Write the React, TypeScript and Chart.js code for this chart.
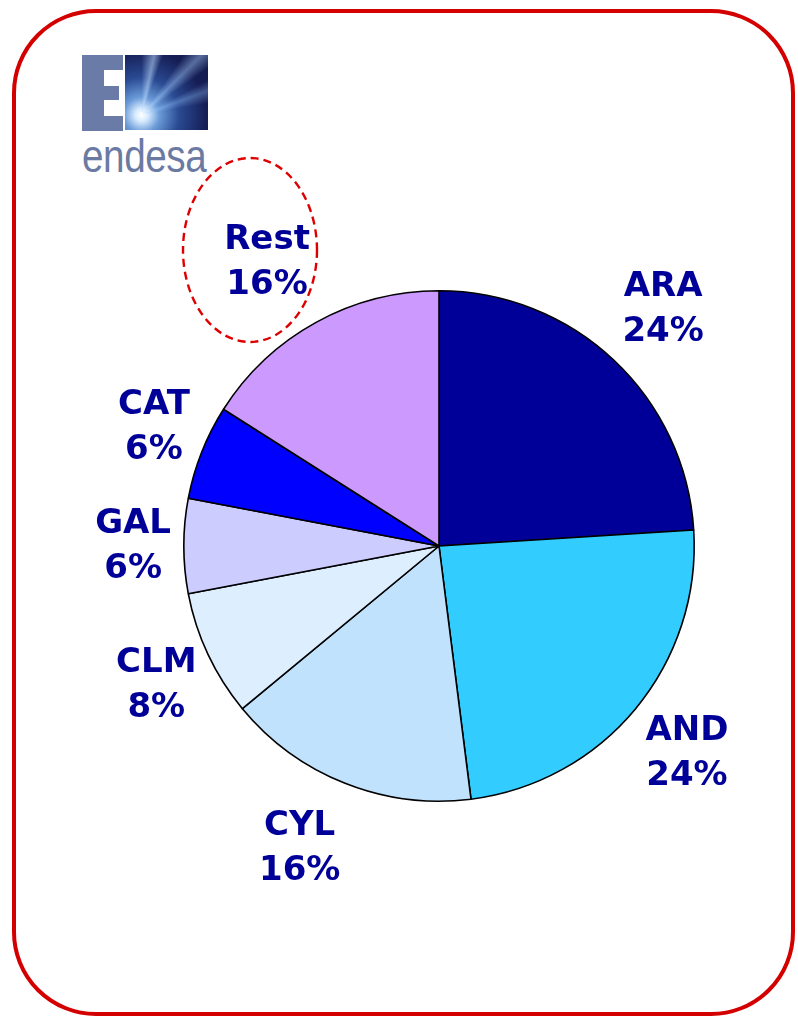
import React, { useEffect, useRef } from "react";
import { Chart, registerables } from "chart.js";

Chart.register(...registerables);

const categories = ["ARA", "AND", "CYL", "CLM", "GAL", "CAT", "Rest"];
const shares = [24, 24, 16, 8, 6, 6, 16];
const sliceColors = ["#000099", "#33CCFF", "#C0E2FC", "#DDEEFF", "#CCCCFF", "#0000FF", "#CC99FF"];

const LABEL_COLOR = "#000099";
const LABEL_FONT = "bold 34px 'DejaVu Sans', Verdana, sans-serif";
const LINE_GAP = 45;

const outsideLabels = {
  id: "outsideLabels",
  afterDatasetsDraw(chart: any) {
    const ctx = chart.ctx;
    const meta = chart.getDatasetMeta(0);
    ctx.save();
    ctx.font = LABEL_FONT;
    ctx.fillStyle = LABEL_COLOR;
    ctx.textAlign = "center";
    ctx.textBaseline = "middle";
    meta.data.forEach((arc: any, i: number) => {
      const p = arc.getProps(["x", "y", "startAngle", "endAngle", "outerRadius"], true);
      const mid = (p.startAngle + p.endAngle) / 2;
      const l1 = categories[i];
      const l2 = shares[i] + "%";
      const hw = Math.max(ctx.measureText(l1).width, ctx.measureText(l2).width) / 2;
      const c = Math.cos(mid);
      const s = Math.sin(mid);
      const cx = p.x + c * p.outerRadius * 1.05 + Math.sign(c) * hw;
      const cy = p.y + s * (p.outerRadius * 1.05 + 57);
      ctx.fillText(l1, cx, cy - LINE_GAP / 2 + 1);
      ctx.fillText(l2, cx, cy + LINE_GAP / 2 + 1);
    });
    ctx.restore();
  },
};

function PieChart() {
  const ref = useRef<HTMLCanvasElement | null>(null);
  useEffect(() => {
    if (!ref.current) return;
    const chart = new Chart(ref.current, {
      type: "pie",
      data: {
        labels: categories,
        datasets: [
          {
            data: shares,
            backgroundColor: sliceColors,
            borderColor: "#000000",
            borderWidth: 1.6,
          },
        ],
      },
      options: {
        animation: false,
        responsive: false,
        maintainAspectRatio: false,
        layout: { padding: { left: 183, right: 103, top: 290, bottom: 215 } },
        plugins: { legend: { display: false }, tooltip: { enabled: false }, title: { display: false } },
      },
      plugins: [outsideLabels],
    });
    return () => chart.destroy();
  }, []);
  return (
    <canvas
      ref={ref}
      width={798}
      height={1017}
      style={{ position: "absolute", left: 0, top: 0, width: 798, height: 1017 }}
    />
  );
}

export default function App() {
  useEffect(() => {
    document.body.style.margin = "0";
  }, []);
  return (
    <div style={{ position: "relative", width: 798, height: 1017, background: "#ffffff", overflow: "hidden" }}>
      <div
        style={{
          position: "absolute",
          left: 12,
          top: 9,
          width: 783 - 8,
          height: 1007 - 8,
          border: "4px solid #D40000",
          borderRadius: 84,
        }}
      />
      {/* logo */}
      <div style={{ position: "absolute", left: 82, top: 55, width: 22, height: 76, background: "#6A7BA8" }} />
      <div style={{ position: "absolute", left: 82, top: 55, width: 41, height: 15, background: "#6A7BA8" }} />
      <div style={{ position: "absolute", left: 82, top: 86, width: 37, height: 14, background: "#6A7BA8" }} />
      <div style={{ position: "absolute", left: 82, top: 116, width: 41, height: 15, background: "#6A7BA8" }} />
      <div
        style={{
          position: "absolute",
          left: 125,
          top: 55,
          width: 83,
          height: 75,
          overflow: "hidden",
          background:
            "radial-gradient(circle at 20% 80%, #ffffff 0%, #d8ecff 7%, #6a9ad8 20%, #2a4a92 42%, #161e56 72%, #121848 100%)",
        }}
      >
        <div
          style={{
            position: "absolute",
            left: 0,
            top: 0,
            width: 83,
            height: 75,
            background:
              "conic-gradient(from 0deg at 20% 80%, transparent 0deg, rgba(190,220,255,0.55) 12deg, transparent 20deg, transparent 35deg, rgba(170,210,255,0.45) 45deg, transparent 55deg, transparent 62deg, rgba(150,200,255,0.35) 70deg, transparent 80deg, transparent 360deg)",
          }}
        />
      </div>
      <div
        style={{
          position: "absolute",
          left: 82,
          top: 131,
          fontFamily: "'Liberation Sans', Arial, sans-serif",
          fontSize: 46,
          lineHeight: "50px",
          color: "#6B7AA3",
          transform: "scaleX(0.84)",
          transformOrigin: "left top",
          letterSpacing: -0.5,
        }}
      >
        endesa
      </div>
      <svg width={798} height={1017} style={{ position: "absolute", left: 0, top: 0 }}>
        <ellipse cx={250} cy={250} rx={67} ry={92} fill="none" stroke="#DD0000" strokeWidth={2.4} strokeDasharray="8 5" />
      </svg>
      <PieChart />
    </div>
  );
}
